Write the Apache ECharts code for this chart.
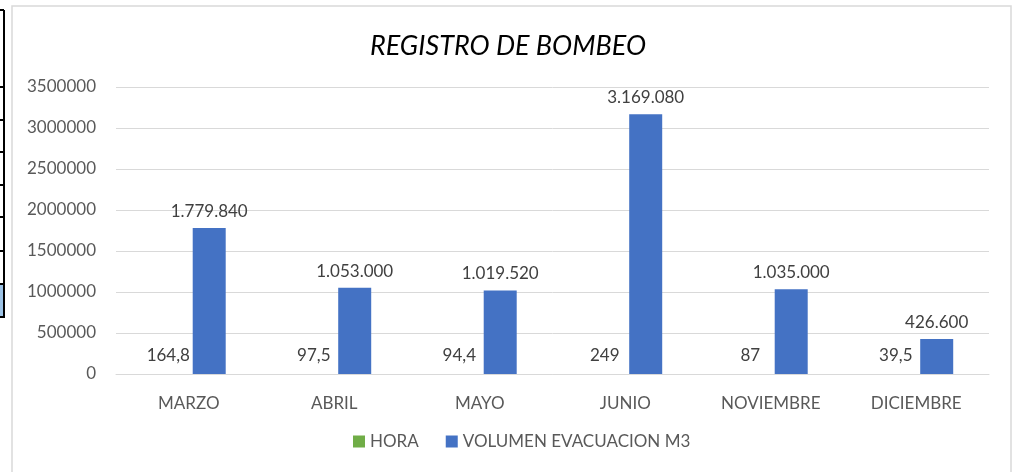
<!DOCTYPE html>
<html>
<head>
<meta charset="utf-8">
<script src="https://cdn.jsdelivr.net/npm/echarts@6/dist/echarts.min.js"></script>
<style>
  html, body { margin: 0; padding: 0; background: #fff; }
  #chart { width: 1016px; height: 472px; }
</style>
</head>
<body>
<div id="chart"></div>
<script>
// datos del grafico
var meses = ['MARZO', 'ABRIL', 'MAYO', 'JUNIO', 'NOVIEMBRE', 'DICIEMBRE'];
var horas = [164.8, 97.5, 94.4, 249, 87, 39.5];
var volumen = [1779840, 1053000, 1019520, 3169080, 1035000, 426600];
var yTicks = { min: 0, max: 3500000, interval: 500000 };

var fuente = 'Lato, "Open Sans", sans-serif';

function miles(v) {
  return String(v).replace(/\B(?=(\d{3})+(?!\d))/g, '.');
}
function decimal(v) {
  return String(v).replace('.', ',');
}

var chart = echarts.init(document.getElementById('chart'));
chart.setOption({
  animation: false,
  textStyle: { fontFamily: fuente },
  title: {
    text: 'REGISTRO DE BOMBEO',
    left: 'center',
    top: 28,
    textStyle: { fontFamily: fuente, fontSize: 27, fontStyle: 'italic', fontWeight: 'normal', color: '#000' }
  },
  legend: {
    bottom: 17,
    left: 348,
    itemWidth: 12,
    itemHeight: 12,
    itemGap: 27,
    icon: 'rect',
    textStyle: { fontFamily: fuente, fontSize: 17, color: '#595959' },
    data: ['HORA', 'VOLUMEN EVACUACION M3']
  },
  grid: { left: 116, right: 27, top: 87, bottom: 98 },
  xAxis: {
    type: 'category',
    data: meses,
    axisLine: { lineStyle: { color: '#d9d9d9', width: 1 } },
    axisTick: { show: false },
    axisLabel: { color: '#595959', fontSize: 17, margin: 21 }
  },
  yAxis: {
    type: 'value',
    min: yTicks.min,
    max: yTicks.max,
    interval: yTicks.interval,
    axisLine: { show: false },
    axisTick: { show: false },
    splitLine: { lineStyle: { color: '#d9d9d9', width: 1 } },
    axisLabel: { color: '#595959', fontSize: 17, margin: 20, formatter: function (v) { return String(v); } }
  },
  series: [
    {
      name: 'HORA',
      type: 'bar',
      data: horas,
      barWidth: 33,
      barGap: '24%',
      itemStyle: { color: '#70AD47' },
      label: {
        show: true, position: 'top', distance: 10,
        color: '#404040', fontSize: 17,
        formatter: function (p) { return decimal(p.value); }
      }
    },
    {
      name: 'VOLUMEN EVACUACION M3',
      type: 'bar',
      data: volumen,
      barWidth: 33,
      itemStyle: { color: '#4472C4' },
      label: {
        show: true, position: 'top', distance: 8,
        color: '#404040', fontSize: 17,
        formatter: function (p) { return miles(p.value); }
      }
    }
  ],
  graphic: [
    // borde del area del grafico
    { type: 'rect', shape: { x: 12, y: 6, width: 999, height: 480 }, style: { fill: 'none', stroke: '#d9d9d9', lineWidth: 1.5 }, silent: true },
    // celdas de la hoja a la izquierda
    { type: 'rect', shape: { x: 0, y: 284, width: 4, height: 33 }, style: { fill: '#9dc3e6' }, silent: true },
    { type: 'line', shape: { x1: 4, y1: 10, x2: 4, y2: 318 }, style: { stroke: '#000', lineWidth: 2 }, silent: true },
    { type: 'line', shape: { x1: 0, y1: 10, x2: 4, y2: 10 }, style: { stroke: '#000', lineWidth: 2 }, silent: true },
    { type: 'line', shape: { x1: 0, y1: 87, x2: 4, y2: 87 }, style: { stroke: '#000', lineWidth: 2 }, silent: true },
    { type: 'line', shape: { x1: 0, y1: 120, x2: 4, y2: 120 }, style: { stroke: '#000', lineWidth: 2 }, silent: true },
    { type: 'line', shape: { x1: 0, y1: 152, x2: 4, y2: 152 }, style: { stroke: '#000', lineWidth: 2 }, silent: true },
    { type: 'line', shape: { x1: 0, y1: 185, x2: 4, y2: 185 }, style: { stroke: '#000', lineWidth: 2 }, silent: true },
    { type: 'line', shape: { x1: 0, y1: 217, x2: 4, y2: 217 }, style: { stroke: '#000', lineWidth: 2 }, silent: true },
    { type: 'line', shape: { x1: 0, y1: 251, x2: 4, y2: 251 }, style: { stroke: '#000', lineWidth: 2 }, silent: true },
    { type: 'line', shape: { x1: 0, y1: 284, x2: 4, y2: 284 }, style: { stroke: '#000', lineWidth: 2 }, silent: true },
    { type: 'line', shape: { x1: 0, y1: 317, x2: 4, y2: 317 }, style: { stroke: '#000', lineWidth: 2 }, silent: true }
  ]
});
</script>
</body>
</html>
